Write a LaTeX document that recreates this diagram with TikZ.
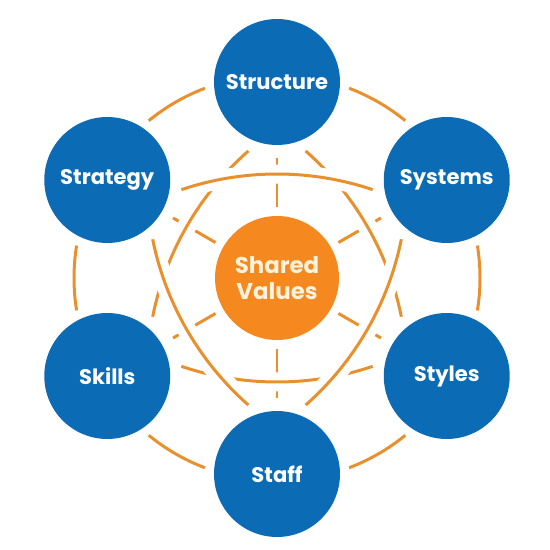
\documentclass[tikz,border=0pt]{standalone}
\usepackage{fontspec}
\setmainfont{Poppins}
\usetikzlibrary{positioning}
\definecolor{sblue}{RGB}{11,107,181}
\definecolor{sorange}{RGB}{245,137,31}
\definecolor{slink}{RGB}{232,144,46}
\definecolor{scream}{RGB}{255,243,222}

\begin{document}
\begin{tikzpicture}[x=0.02cm, y=0.02cm,
  ringnode/.style={circle, fill=sblue, minimum size=2.52cm, inner sep=0pt, outer sep=0pt, text=white, font=\fontsize{12}{14}\selectfont\bfseries, align=center},
  corenode/.style={circle, fill=sorange, minimum size=2.48cm, inner sep=0pt, outer sep=0pt, text=scream, font=\fontsize{13}{14.5}\selectfont\bfseries, align=center},
  rim/.style={slink, line width=1.7pt},
  spoke/.style={slink, line width=1.7pt, shorten <=0.18cm, shorten >=0.26cm},
  link/.style={slink, line width=1.7pt, preaction={draw=white, line width=10.8pt}}]
\useasboundingbox (-277,-272) rectangle (273,278);
% Core
\node[corenode] (sv) at (0,0) {Shared\\Values};
% Ring
\node[ringnode] (str) at (90:196) {Structure};
\node[ringnode] (sys) at (30:196) {Systems};
\node[ringnode] (sty) at (-30:196) {Styles};
\node[ringnode] (sta) at (-90:196) {Staff};
\node[ringnode] (ski) at (-150:196) {Skills};
\node[ringnode] (stg) at (150:196) {Strategy};
% Outer rim
\foreach \a in {120,60,0,-60,-120,180} {
  \draw[rim] ([shift={(\a-9.2:203)}]sv.center) arc[start angle=\a-9.2, end angle=\a+9.2, radius=203];
}
% Spokes
\foreach \n in {str,sys,sty,sta,ski,stg} {
  \draw[spoke] (sv) -- (\n);
}
% Soft triangle
\foreach \n/\a in {sty/-30, ski/210, str/90} {
  \draw[link] ([shift={(\a+180-18.6:300)}]\n.center) arc[start angle=\a+180-18.6, end angle=\a+180+18.6, radius=300];
}
% Hard triangle
\foreach \n/\a in {sta/270, sys/30, stg/150} {
  \draw[link] ([shift={(\a+180-18.6:300)}]\n.center) arc[start angle=\a+180-18.6, end angle=\a+180+18.6, radius=300];
}
\end{tikzpicture}
\end{document}
